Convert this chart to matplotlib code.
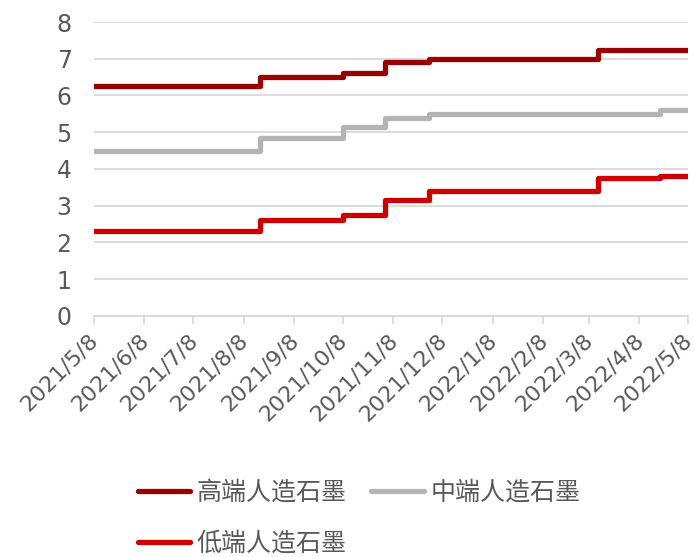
import numpy as np
import pandas as pd
import matplotlib
matplotlib.use('Agg')
import matplotlib.pyplot as plt
from matplotlib.transforms import ScaledTranslation

plt.rcParams['font.family'] = ['Noto Sans CJK SC', 'DejaVu Sans']

# Price levels at each change date (held until the next change)
high_dates = ['2021-05-08', '2021-08-18', '2021-10-08', '2021-11-03', '2021-11-30', '2022-03-14', '2022-05-08']
high_vals = [6.25, 6.5, 6.6, 6.9, 7.0, 7.25, 7.25]

mid_dates = ['2021-05-08', '2021-08-18', '2021-10-08', '2021-11-03', '2021-11-30', '2022-04-21', '2022-05-08']
mid_vals = [4.5, 4.85, 5.15, 5.4, 5.5, 5.6, 5.6]

low_dates = ['2021-05-08', '2021-08-18', '2021-10-08', '2021-11-03', '2021-11-30', '2022-03-14', '2022-04-21', '2022-05-08']
low_vals = [2.3, 2.6, 2.75, 3.15, 3.4, 3.75, 3.8, 3.8]

labels = ['高端人造石墨', '中端人造石墨', '低端人造石墨']
colors = ['#990000', '#B4B4B4', '#CC0000']

tick_labels = ['2021/5/8', '2021/6/8', '2021/7/8', '2021/8/8', '2021/9/8', '2021/10/8',
               '2021/11/8', '2021/12/8', '2022/1/8', '2022/2/8', '2022/3/8', '2022/4/8', '2022/5/8']
tick_dates = pd.to_datetime(tick_labels, format='%Y/%m/%d')

fig = plt.figure(figsize=(6.94, 5.57), dpi=100)
ax = fig.add_axes([0.1354, 0.4327, 0.8559, 0.5278])

series = [(high_dates, high_vals), (mid_dates, mid_vals), (low_dates, low_vals)]
lines = []
for (d, v), lab, c in zip(series, labels, colors):
    ln, = ax.plot(pd.to_datetime(d), v, drawstyle='steps-post', color=c, lw=3.8,
                  solid_capstyle='round', solid_joinstyle='round', label=lab)
    lines.append(ln)

ax.set_ylim(0, 8)
ax.set_yticks(range(0, 9))
ax.set_xlim(tick_dates[0], tick_dates[-1])
ax.set_xticks(tick_dates)

ax.grid(axis='y', color='#D9D9D9', lw=1.3)
ax.set_axisbelow(True)
for s in ['top', 'right', 'left']:
    ax.spines[s].set_visible(False)
ax.spines['bottom'].set_color('#D9D9D9')
ax.spines['bottom'].set_linewidth(1.3)
ax.tick_params(axis='y', length=0, pad=16, labelsize=17, labelcolor='#595959')
ax.tick_params(axis='x', length=6, width=1.3, color='#D9D9D9', pad=0,
               labelsize=16, labelcolor='#595959')

ax.set_xticklabels(tick_labels, rotation=45, ha='right', va='top',
                   rotation_mode='anchor', family='DejaVu Sans')
# nudge the slanted date labels a little below and left of the tick marks
shift = ScaledTranslation(-6 / 100, -6 / 100, fig.dpi_scale_trans)
for t in ax.get_xticklabels():
    t.set_transform(t.get_transform() + shift)
for t in ax.get_yticklabels():
    t.set_family('DejaVu Sans')

# column-major fill: first column gets high/low, second gets mid
order = [0, 2, 1]
fig.legend([lines[i] for i in order], [labels[i] for i in order],
           loc='upper left', bbox_to_anchor=(0.184, 0.157), ncol=2, frameon=False,
           fontsize=18, labelcolor='#595959', handlelength=2.1, handletextpad=0.25,
           columnspacing=1.0, labelspacing=1.0, borderaxespad=0)

fig.savefig('out.png', dpi=100)
